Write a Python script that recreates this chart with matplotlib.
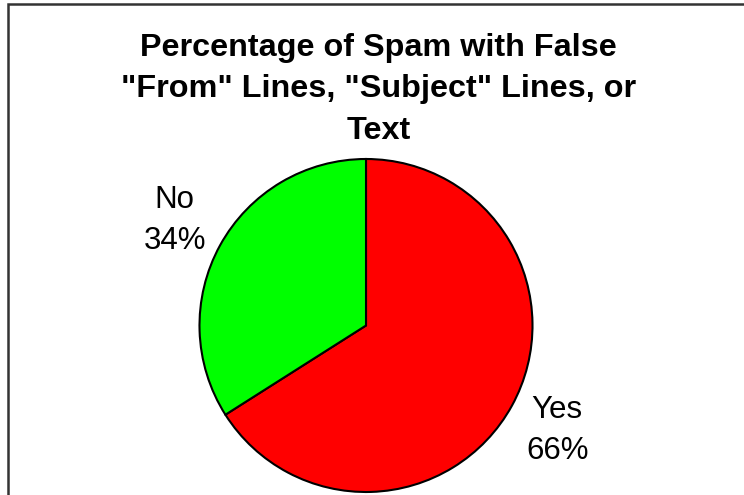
import matplotlib.pyplot as plt
from matplotlib.patches import Rectangle

# datos del grafico
categorias = ['Yes', 'No']
porcentajes = [66, 34]
colores = ['#ff0000', '#00ff00']
titulo = 'Percentage of Spam with False\n"From" Lines, "Subject" Lines, or\nText'

plt.rcParams['font.family'] = ['Liberation Sans', 'DejaVu Sans']

W, H = 744, 495
fig = plt.figure(figsize=(W / 100, H / 100), dpi=100)
fig.patch.set_facecolor('white')

# eje del pastel: centro y radio en pixeles
cx, cy, r = 366, 325.5, 166.5
ax = fig.add_axes([(cx - r) / W, (H - cy - r) / H, 2 * r / W, 2 * r / H])

etiquetas = [f'{c}\n{p}%' for c, p in zip(categorias, porcentajes)]
wedges, textos = ax.pie(porcentajes, labels=etiquetas, colors=colores,
                        startangle=90, counterclock=False,
                        labeldistance=1.31,
                        wedgeprops=dict(edgecolor='black', linewidth=1.5),
                        textprops=dict(fontsize=22.5, linespacing=1.45))
for t in textos:
    t.set_horizontalalignment('center')
ax.set_xlim(-1, 1)
ax.set_ylim(-1, 1)
ax.set_aspect('equal')
ax.axis('off')

# titulo
fig.text(378.5 / W, 1 - 33 / H, titulo, ha='center', va='top',
         fontsize=23.3, fontweight='bold', linespacing=1.49)

# marco del area del grafico (recortado a la derecha y abajo)
marco = Rectangle((8 / W, -0.2), 1.2, 1.2 - 3.5 / H,
                  transform=fig.transFigure, fill=False,
                  edgecolor='#333333', linewidth=1.8, clip_on=False)
fig.patches.append(marco)

fig.savefig('out.png', dpi=100, facecolor='white')
plt.close(fig)
